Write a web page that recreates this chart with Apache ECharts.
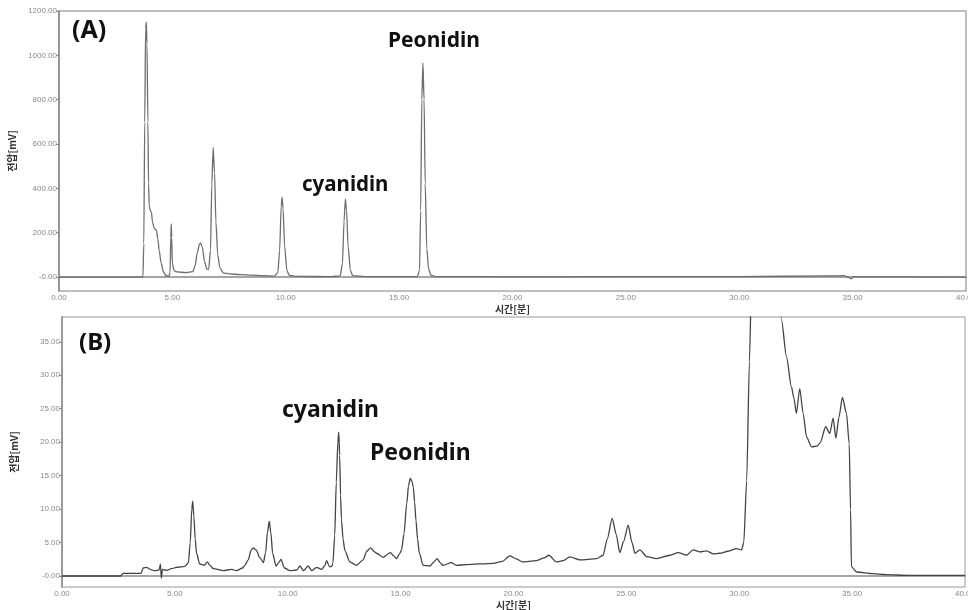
<!DOCTYPE html>
<html>
<head>
<meta charset="utf-8">
<script src="https://cdn.jsdelivr.net/npm/echarts@6/dist/echarts.min.js"></script>
<style>
  html, body { margin: 0; padding: 0; background: #fff; }
  #chart { width: 968px; height: 610px; }
</style>
</head>
<body>
<div id="chart"></div>
<script>
// time [min], signal [mV]
var traceA = [
  [0, 0], [3.70, 0], [3.74, 150], [3.78, 700], [3.82, 1120], [3.85, 1150], [3.88, 1050], [3.92, 700],
  [3.95, 420], [3.98, 320], [4.03, 300], [4.08, 290], [4.12, 250], [4.2, 220], [4.3, 210], [4.36, 170],
  [4.42, 120], [4.5, 65], [4.6, 25], [4.7, 8], [4.85, 3], [4.9, 20], [4.93, 180], [4.95, 240],
  [4.97, 180], [5.0, 60], [5.08, 28], [5.2, 23], [5.6, 20], [5.9, 24], [6.0, 50], [6.1, 110],
  [6.2, 150], [6.25, 153], [6.32, 135], [6.42, 70], [6.52, 35], [6.6, 34], [6.68, 120], [6.74, 420],
  [6.8, 584], [6.86, 470], [6.92, 250], [7.0, 100], [7.1, 40], [7.25, 18], [7.5, 14], [8.0, 11],
  [8.5, 9], [9.0, 6], [9.5, 4], [9.65, 20], [9.73, 120], [9.8, 320], [9.84, 360], [9.88, 310],
  [9.95, 140], [10.05, 30], [10.15, 8], [10.5, 3], [12.0, 2], [12.4, 5], [12.5, 60], [12.57, 250],
  [12.63, 352], [12.68, 300], [12.75, 140], [12.85, 30], [12.95, 6], [13.5, 2], [15.8, 2], [15.9, 30],
  [15.95, 300], [16.0, 800], [16.05, 965], [16.1, 800], [16.15, 420], [16.22, 130], [16.3, 35], [16.4, 8],
  [16.6, 2], [20, 1], [30, 2], [34, 5], [34.6, 6], [34.85, -3], [34.95, -8], [35.05, 2], [35.3, 1], [40, 0]
]

var traceB = [
  [0, 0], [2.6, 0], [2.7, 0.4], [3.5, 0.4], [3.6, 1.2], [3.75, 1.3], [3.9, 1.0], [4.1, 0.8], [4.3, 0.9],
  [4.36, 1.8], [4.4, -0.3], [4.45, 1.0], [4.63, 0.85], [4.85, 1.1], [5.07, 1.3], [5.45, 1.45], [5.6, 2.0],
  [5.68, 5], [5.75, 10], [5.79, 11.2], [5.84, 9], [5.9, 5.5], [5.96, 3.4], [6.1, 1.8], [6.3, 1.6],
  [6.44, 2.1], [6.55, 1.6], [6.7, 1.1], [7.15, 0.8], [7.51, 1.0], [7.73, 0.8], [8.0, 1.2], [8.1, 1.6],
  [8.25, 2.4], [8.38, 3.9], [8.47, 4.2], [8.6, 3.9], [8.77, 2.7], [8.92, 2.0], [9.02, 3.5], [9.1, 6.5],
  [9.18, 8.2], [9.25, 6.5], [9.33, 3.4], [9.48, 1.5], [9.6, 2.0], [9.7, 2.5], [9.85, 1.2], [10.1, 0.8],
  [10.4, 0.9], [10.54, 1.5], [10.69, 0.8], [10.91, 1.5], [11.06, 0.8], [11.28, 1.3], [11.5, 1.0], [11.65, 1.6],
  [11.72, 2.3], [11.85, 1.4], [11.94, 1.4], [12.0, 1.9], [12.08, 6], [12.15, 14], [12.22, 20], [12.26, 21.5],
  [12.3, 18], [12.34, 12], [12.38, 8.4], [12.45, 5.5], [12.53, 3.8], [12.75, 2.1], [13.05, 1.6], [13.34, 2.4],
  [13.5, 3.7], [13.67, 4.2], [13.85, 3.6], [13.93, 3.4], [14.23, 2.8], [14.4, 3.2], [14.55, 3.5], [14.7, 3.0],
  [14.82, 2.6], [14.95, 3.3], [15.04, 3.9], [15.15, 6.3], [15.27, 10.8], [15.35, 13.5], [15.43, 14.6], [15.5, 14.2],
  [15.56, 13.3], [15.62, 11], [15.68, 8.3], [15.75, 5.5], [15.83, 3.4], [16.0, 1.6], [16.3, 1.5], [16.5, 2.2],
  [16.62, 2.6], [16.75, 2.0], [16.88, 1.6], [17.25, 2.0], [17.47, 1.6], [17.9, 1.7], [19.1, 1.9], [19.5, 2.2],
  [19.84, 3.0], [20.1, 2.6], [20.4, 2.1], [21.0, 2.3], [21.35, 2.7], [21.57, 3.1], [21.9, 2.1], [22.2, 2.3],
  [22.5, 2.85], [22.94, 2.4], [23.68, 2.6], [23.97, 3.1], [24.15, 5.5], [24.37, 8.6], [24.55, 6.2], [24.71, 3.5],
  [24.88, 5.2], [25.08, 7.6], [25.25, 5.0], [25.38, 3.4], [25.6, 3.9], [25.9, 2.9], [26.34, 2.6], [26.93, 3.1],
  [27.3, 3.5], [27.66, 3.1], [27.96, 3.9], [28.26, 3.6], [28.55, 3.75], [28.85, 3.3], [29.14, 3.4], [29.5, 3.7],
  [29.88, 4.1], [30.1, 3.9], [30.2, 5], [30.33, 14.3], [30.45, 32], [30.55, 45], [31.0, 80], [31.6, 60],
  [31.87, 38.3], [32.09, 32.8], [32.31, 28.3], [32.42, 26.6], [32.53, 24.3], [32.68, 28.0], [32.83, 24.3], [32.98, 20.8],
  [33.2, 19.3], [33.44, 19.4], [33.58, 19.9], [33.83, 22.3], [34.01, 21.3], [34.16, 23.6], [34.28, 20.6], [34.42, 23.8],
  [34.57, 26.7], [34.75, 24.3], [34.87, 19.8], [34.93, 9.9], [34.97, 1.4], [35.2, 0.6], [35.93, 0.35], [36.5, 0.2],
  [37.5, 0.1], [40, 0.1]
]

var ticksA = [0, 200, 400, 600, 800, 1000, 1200]
var ticksB = [0, 5, 10, 15, 20, 25, 30, 35]
var xTicks = [0, 5, 10, 15, 20, 25, 30, 35, 40]

var xName = '시간[분]'
var yName = '전압[mV]'

var myChart = echarts.init(document.getElementById('chart'))

// the instrument prints the zero on the y axis as "-0.00"
function fmtY (v) {
  return v === 0 ? '-0.00' : v.toFixed(2)
}
function fmtX (v) {
  return v.toFixed(2)
}

var labelStyle = { fontSize: 8, color: '#8a8a8a', fontFamily: 'Arial, Liberation Sans, sans-serif' }
var nameStyle = { fontSize: 10, fontWeight: 'bold', color: '#333', fontFamily: 'Noto Sans CJK KR' }

function xAxisFor (grid, gap) {
  return {
    type: 'value', gridIndex: grid, min: 0, max: 40,
    name: xName, nameLocation: 'middle', nameGap: gap, nameTextStyle: nameStyle,
    axisLine: { lineStyle: { color: '#888', width: 1.5 } },
    axisTick: { show: false },
    splitLine: { show: false },
    axisLabel: Object.assign({ customValues: xTicks, margin: 3, formatter: fmtX }, labelStyle)
  }
}

function yAxisFor (grid, min, max, ticks, gap) {
  return {
    type: 'value', gridIndex: grid, min: min, max: max,
    name: yName, nameLocation: 'middle', nameGap: gap, nameTextStyle: nameStyle,
    axisLine: { lineStyle: { color: '#888', width: 1.5 } },
    axisTick: { show: true, customValues: ticks, length: 3, lineStyle: { color: '#888' } },
    splitLine: { show: false },
    axisLabel: Object.assign({ customValues: ticks, margin: 2, formatter: fmtY }, labelStyle)
  }
}

var option = {
  animation: false,
  grid: [
    { left: 59, right: 2, top: 11, height: 280, show: true, borderColor: '#aaa', borderWidth: 1.5, outerBoundsMode: 'none', containLabel: false },
    { left: 62, right: 3, top: 317, height: 270, show: true, borderColor: '#bbb', borderWidth: 1.5, outerBoundsMode: 'none', containLabel: false }
  ],
  xAxis: [xAxisFor(0, 13), xAxisFor(1, 13)],
  yAxis: [yAxisFor(0, -63, 1200, ticksA, 40), yAxisFor(1, -1.64, 38.7, ticksB, 43)],
  series: [
    {
      type: 'line', xAxisIndex: 0, yAxisIndex: 0, data: traceA,
      showSymbol: false, smooth: 0.25, smoothMonotone: 'x',
      lineStyle: { color: '#6e6e6e', width: 1.3 }
    },
    {
      type: 'line', xAxisIndex: 1, yAxisIndex: 1, data: traceB,
      showSymbol: false, smooth: 0.25, smoothMonotone: 'x',
      lineStyle: { color: '#444', width: 1.3 }
    }
  ],
  graphic: [
    { type: 'text', left: 72, top: 18, style: { text: '(A)', font: 'bold 25px "Noto Sans"', fill: '#111' } },
    { type: 'text', left: 388, top: 31, style: { text: 'Peonidin', font: 'bold 21px "Noto Sans"', fill: '#111' } },
    { type: 'text', left: 302, top: 175, style: { text: 'cyanidin', font: 'bold 20.5px "Noto Sans"', fill: '#111' } },
    { type: 'text', left: 79, top: 331, style: { text: '(B)', font: 'bold 24px "Noto Sans"', fill: '#111' } },
    { type: 'text', left: 282, top: 399, style: { text: 'cyanidin', font: 'bold 23px "Noto Sans"', fill: '#111' } },
    { type: 'text', left: 370, top: 442, style: { text: 'Peonidin', font: 'bold 23px "Noto Sans"', fill: '#111' } }
  ]
}

myChart.setOption(option)
</script>
</body>
</html>
